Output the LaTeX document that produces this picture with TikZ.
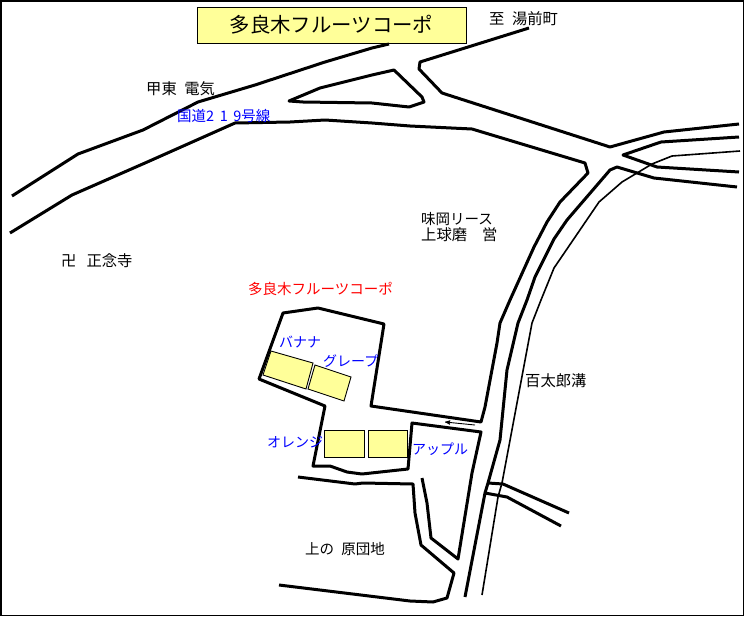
\documentclass[tikz,border=0pt]{standalone}
\usepackage{fontspec}
\setmainfont[WordSpace=2.2]{Noto Sans CJK JP}
\usetikzlibrary{arrows}
\definecolor{lemon}{HTML}{FFFF99}
\tikzstyle{road} = [draw, line width=3pt, line join=round]
\tikzstyle{thinroad} = [draw, line width=1.6pt, line join=round]
\tikzstyle{field} = [draw, fill=lemon, line width=0.9pt]
\tikzstyle{to} = [->,>=stealth',line width=0.9pt]
\tikzstyle{place} = [anchor=west, inner sep=0pt, font=\fontsize{14.5}{16}\selectfont]
\tikzstyle{kanji} = [place, font=\fontsize{15.3}{16}\selectfont]
\tikzstyle{crop} = [place, text=blue, font=\fontsize{14}{16}\selectfont]
\begin{document}
\begin{tikzpicture}[x=1pt, y=-1pt]
	\useasboundingbox (0,0) rectangle (744,616);
	\draw [line width=1.5pt] (0.75,0.75) rectangle (743.25,615.25);
	%
	\node (title) [draw, fill=lemon, line width=1pt, minimum width=269pt, minimum height=36pt, inner sep=0pt, font=\fontsize{20.4}{22}\selectfont] at (331.5,25) {多良木フルーツコーポ};
	%
	\draw [road] (12,196) -- (78,154) -- (143,130) -- (198,102) -- (255,85) -- (325,62) -- (372,48) -- (389,44);
	\draw [road] (529,28) -- (420,62) -- (419,69) -- (442,93) -- (610,147) -- (664,132) -- (739,124);
	\draw [road] (10,233) -- (72,195) -- (145,163) -- (235,123) -- (290,122) -- (325,120) -- (372,123) -- (410,126) -- (472,129) -- (585,163) -- (588,173) -- (560,202) -- (547,222) -- (534,247) -- (510,300) -- (500,323) -- (497,343) -- (485,407) -- (481,422) -- (371,406) -- (384,324) -- (318,308) -- (283,313) -- (259,379) -- (325,406) -- (313,466) -- (330,466) -- (347,472) -- (362,474) -- (408,469) -- (412,423) -- (481,432) -- (472,473) -- (458,559) -- (431,538) -- (427,503) -- (422,478);
	%
	\draw [road] (289,101) -- (320,88) -- (372,75) -- (394,70) -- (422,97) -- (424,102) -- (409,107) -- (372,103) -- (303,102) -- cycle;
	%
	\draw [road] (739,137) -- (661,142) -- (623,155) -- (657,167) -- (739,172);
	\draw [road] (737,187) -- (654,178) -- (617,167) -- (610,170) -- (567,220) -- (554,239) -- (535,277) -- (527,300) -- (518,323) -- (507,370) -- (500,440) -- (488,483) -- (485,493) -- (465,597);
	\draw [thinroad] (740,151) -- (672,156) -- (652,164) -- (622,182) -- (599,202) -- (554,268) -- (541,300) -- (532,323) -- (502,483) -- (498,497) -- (482,595);
	%
	\draw [road] (488,483) -- (503,484) -- (569,513);
	\draw [road] (485,493) -- (507,497) -- (561,526);
	%
	\draw [road] (298,477) -- (355,484) -- (363,483) -- (413,484) -- (415,513) -- (421,545) -- (454,573) -- (447,598) -- (433,602) -- (410,601) -- (279,585);
	%
	\draw [to] (475,425) -- (445,422);
	%
	\draw [field] (271,351) -- (313,363) -- (306,389) -- (263,375) -- cycle;
	\draw [field] (315,365) -- (351,377) -- (344,401) -- (308,389) -- cycle;
	\draw [field] (324,430) rectangle (364,457);
	\draw [field] (368,430) rectangle (407,457);
	%
	\node (denki) [kanji] at (146,89) {甲東 電気};
	\node (yunomae) [kanji] at (489,19) {至 湯前町};
	\node (kokudo) [place, text=blue] at (177,116) {国道{\addfontfeature{LetterSpace=38}219}号線};
	\node (lease) [place] at (421,219) {味岡リース};
	\node (kuma) [kanji] at (421,235) {上球磨 \ 営};
	\node (temple) [kanji] at (61,261) {卍 \,正念寺};
	\node (coop) [place, text=red] at (248,289) {多良木フルーツコーポ};
	\node (banana) [crop] at (279,342) {バナナ};
	\node (grape) [crop] at (323,361) {グレープ};
	\node (orange) [crop] at (267,442) {オレンジ};
	\node (apple) [crop] at (412,449) {アップル};
	\node (ditch) [kanji] at (525,381) {百太郎溝};
	\node (danchi) [place] at (305,549) {上の 原団地};
\end{tikzpicture}
\end{document}
